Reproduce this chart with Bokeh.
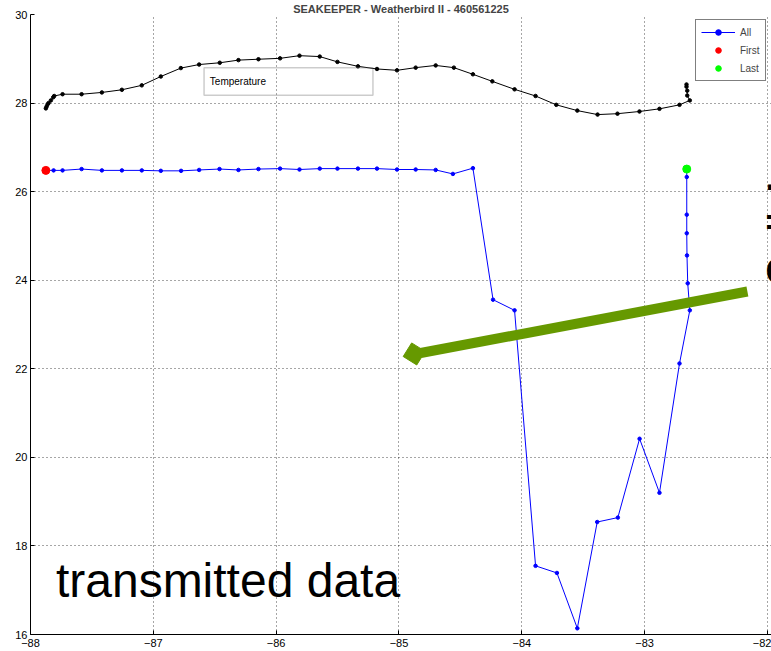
from bokeh.plotting import figure
from bokeh.models import FixedTicker, Label, BoxAnnotation, Legend, LegendItem
from bokeh.embed import file_html
from bokeh.resources import INLINE

# Temperature track (black) along longitude
temp_lon = [-87.875, -87.869, -87.861, -87.853, -87.834, -87.815, -87.807, -87.739,
            -87.584, -87.419, -87.256, -87.094, -86.939, -86.776, -86.627, -86.459,
            -86.307, -86.144, -85.968, -85.810, -85.645, -85.501, -85.334, -85.179,
            -85.016, -84.864, -84.701, -84.553, -84.398, -84.240, -84.059, -83.888,
            -83.719, -83.548, -83.383, -83.221, -83.042, -82.879, -82.716, -82.632,
            -82.653, -82.653, -82.659, -82.659]
temp_val = [27.88, 27.92, 27.97, 28.00, 28.06, 28.13, 28.16, 28.20,
            28.20, 28.24, 28.30, 28.40, 28.60, 28.79, 28.87, 28.91,
            28.97, 28.99, 29.01, 29.07, 29.05, 28.93, 28.83, 28.77,
            28.74, 28.80, 28.85, 28.80, 28.65, 28.49, 28.31, 28.16,
            27.96, 27.83, 27.74, 27.76, 27.81, 27.87, 27.96, 28.06,
            28.17, 28.28, 28.37, 28.42]

# Transmitted series (blue)
all_lon = [-87.875, -87.812, -87.739, -87.584, -87.419, -87.256, -87.094, -86.939,
           -86.774, -86.627, -86.461, -86.307, -86.144, -85.968, -85.810, -85.645,
           -85.501, -85.334, -85.179, -85.016, -84.864, -84.701, -84.561, -84.398,
           -84.234, -84.059, -83.888, -83.714, -83.548, -83.386, -83.218, -83.041,
           -82.879, -82.716, -82.632, -82.649, -82.655, -82.657, -82.657, -82.657,
           -82.657]
all_val = [26.48, 26.48, 26.48, 26.51, 26.48, 26.48, 26.48, 26.47,
           26.47, 26.49, 26.51, 26.49, 26.51, 26.52, 26.50, 26.52,
           26.52, 26.52, 26.52, 26.50, 26.50, 26.49, 26.40, 26.53,
           23.56, 23.32, 17.55, 17.39, 16.14, 18.54, 18.64, 20.42,
           19.20, 22.12, 23.32, 23.93, 24.56, 25.06, 25.48, 26.33,
           26.51]

x_ticks = [-88, -87, -86, -85, -84, -83, -82]
y_ticks = [16, 18, 20, 22, 24, 26, 28, 30]

TITLE = "SEAKEEPER - Weatherbird II - 460561225"
FONT = "Liberation Sans"

p = figure(width=771, height=651, output_backend="svg", toolbar_location=None,
           x_range=(-88, -81.967), y_range=(16, 30),
           min_border_left=30, min_border_right=0, min_border_top=14, min_border_bottom=17)
p.outline_line_color = None
p.background_fill_color = "white"
p.border_fill_color = "white"

p.title.text = TITLE
p.title.align = "center"
p.title.text_font = FONT
p.title.text_font_size = "11px"
p.title.text_font_style = "bold"
p.title.standoff = 0
p.title.offset = -2

for ax, ticks in ((p.xaxis[0], x_ticks), (p.yaxis[0], y_ticks)):
    ax.ticker = FixedTicker(ticks=ticks)
    ax.major_tick_in = 4
    ax.major_tick_out = 0
    ax.minor_tick_in = 0
    ax.minor_tick_out = 0
    ax.axis_line_color = "black"
    ax.major_tick_line_color = "black"
    ax.major_label_text_font = FONT
    ax.major_label_text_font_size = "11px"
    ax.major_label_text_color = "black"
p.xaxis.major_label_standoff = 4
p.yaxis.major_label_standoff = 3

for g in (p.xgrid[0], p.ygrid[0]):
    g.grid_line_color = "black"
    g.grid_line_alpha = 0.7
    g.grid_line_dash = "1 3"
    g.grid_line_width = 1

# Temperature track
p.line(temp_lon, temp_val, line_color="black", line_width=1)
p.scatter(temp_lon, temp_val, marker="circle", size=3.5, fill_color="black", line_color="black")

# Transmitted series
r_line = p.line(all_lon, all_val, line_color="#0000ff", line_width=1)
r_pts = p.scatter(all_lon, all_val, marker="circle", size=3.5, fill_color="#0000ff", line_color="#0000ff")
r_first = p.scatter([all_lon[0]], [all_val[0]], marker="circle", size=8,
                    fill_color="#ff0000", line_color="#ff0000")
r_last = p.scatter([all_lon[-1]], [all_val[-1]], marker="circle", size=8,
                   fill_color="#00ff00", line_color="#00ff00")

# Box around the "Temperature" note
p.add_layout(BoxAnnotation(left=-86.587, right=-85.212, bottom=28.178, top=28.797,
                           fill_alpha=0, line_color="#555555", line_width=1.5))
p.add_layout(Label(x=-86.54, y=28.49, text="Temperature", text_font=FONT,
                   text_font_size="10px", text_color="black", text_baseline="middle"))

# Pointer arrow
arrow_x = [-82.163, -84.823]
arrow_y = [23.746, 22.357]
p.line(arrow_x, arrow_y, line_color="#669900", line_width=10)
p.scatter([-84.876], [22.335], marker="square", size=16, angle=58, angle_units="deg",
          fill_color="#669900", line_color="#669900")

p.add_layout(Label(x=-87.793, y=16.93, y_offset=13, text="transmitted data", text_font=FONT,
                   text_font_size="48px", text_color="black", text_baseline="alphabetic"))

# Slide text running off the right edge
for txt, yy in ((".", 26.09), ("=", 25.05), ("C", 23.95)):
    p.add_layout(Label(x=-82, x_offset=-2, y=yy, y_offset=11, text=txt, text_font=FONT,
                       text_font_size="36px", text_font_style="bold", text_color="black",
                       text_baseline="alphabetic"))

legend = Legend(items=[LegendItem(label="All", renderers=[r_line, r_pts]),
                       LegendItem(label="First", renderers=[r_first]),
                       LegendItem(label="Last", renderers=[r_last])],
                location="top_right", margin=5, padding=5, spacing=4,
                glyph_width=34, glyph_height=14, label_height=14, label_standoff=5,
                label_text_font=FONT, label_text_font_size="10px",
                border_line_color="black", border_line_width=1,
                background_fill_color="white", background_fill_alpha=1)
p.add_layout(legend)

open("out.html", "w").write(file_html(p, INLINE))
